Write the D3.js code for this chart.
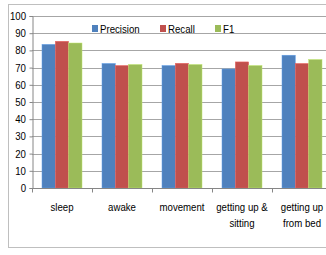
<!DOCTYPE html>
<html>
<head>
<meta charset="utf-8">
<script src="https://cdn.jsdelivr.net/npm/d3@7"></script>
<style>
  body { margin: 0; background: #fff; }
  svg { display: block; font-family: "Liberation Sans", Arial, sans-serif; }
</style>
</head>
<body>
<div id="chart"></div>
<script>
// data
const categories = [["sleep"], ["awake"], ["movement"], ["getting up &", "sitting"], ["getting up", "from bed"]];
const seriesNames = ["Precision", "Recall", "F1"];
const precision = [83.5, 72.4, 71.2, 69.2, 77.2];
const recall = [85.3, 71.2, 72.5, 73.3, 72.4];
const f1 = [84.3, 71.8, 71.8, 71.2, 74.7];
const yTicks = [0, 10, 20, 30, 40, 50, 60, 70, 80, 90, 100];
const colors = ["#4F81BD", "#C0504D", "#9BBB59"];

const width = 326, height = 255;
const margin = {left: 32, top: 16, bottom: 67};
const seriesValues = [precision, recall, f1];
const squeeze = 0.84; // narrow, Calibri-like text

const svg = d3.select("#chart").append("svg")
    .attr("width", width)
    .attr("height", height);

// narrow text: a group at (x, y) squeezed horizontally
function label(parent, x, y, txt, anchor) {
  return parent.append("g")
      .attr("transform", "translate(" + x + "," + y + ") scale(" + squeeze + ",1)")
    .append("text")
      .attr("text-anchor", anchor)
      .attr("font-size", 11.5)
      .attr("fill", "#000")
      .text(txt);
}

// outer frame
svg.append("rect")
    .attr("x", 8.5).attr("y", 4.5)
    .attr("width", 340).attr("height", 243)
    .attr("fill", "none")
    .attr("stroke", "#bfbfbf");

const keys = categories.map((c, i) => i);

const x = d3.scaleBand()
    .domain(keys)
    .range([margin.left, margin.left + 300]);

const xs = d3.scaleBand()
    .domain(seriesNames)
    .range([0, x.bandwidth()])
    .paddingOuter(0.75);

const y = d3.scaleLinear()
    .domain([0, 100])
    .range([height - margin.bottom, margin.top]);

// grid
svg.append("g")
  .selectAll("line")
  .data(yTicks.slice(1))
  .join("line")
    .attr("x1", margin.left).attr("x2", width)
    .attr("y1", d => Math.round(y(d)) + 0.5)
    .attr("y2", d => Math.round(y(d)) + 0.5)
    .attr("stroke", "#a6a6a6");

// bars
const groups = svg.append("g")
  .selectAll("g")
  .data(keys)
  .join("g")
    .attr("transform", d => "translate(" + x(d) + ",0)");

groups.selectAll("rect")
  .data(i => seriesNames.map((s, j) => ({s: s, j: j, v: seriesValues[j][i]})))
  .join("rect")
    .attr("x", d => xs(d.s))
    .attr("width", xs.bandwidth())
    .attr("y", d => y(d.v))
    .attr("height", d => y(0) - y(d.v))
    .attr("fill", d => colors[d.j])
    .attr("stroke", d => d3.color(colors[d.j]).brighter(0.6))
    .attr("stroke-width", 0.5);

// y axis
const yAxis = svg.append("g")
    .attr("transform", "translate(" + (margin.left + 0.5) + ",0)")
    .call(d3.axisLeft(y).tickValues(yTicks).tickSize(3).tickFormat(""));
yAxis.select(".domain").attr("stroke", "#868686");
yAxis.selectAll(".tick line").attr("stroke", "#868686");
yTicks.forEach(t => label(svg, 26, y(t) + 4, t, "end"));

// x axis
const xAxis = svg.append("g")
    .attr("transform", "translate(0," + (Math.round(y(0)) + 0.5) + ")");
xAxis.append("line")
    .attr("x1", margin.left).attr("x2", width)
    .attr("stroke", "#868686");
xAxis.selectAll(".tk")
  .data([-1].concat(keys))
  .join("line")
    .attr("class", "tk")
    .attr("x1", d => d < 0 ? margin.left + 0.5 : Math.round(x(d) + x.bandwidth()) + 0.5)
    .attr("x2", d => d < 0 ? margin.left + 0.5 : Math.round(x(d) + x.bandwidth()) + 0.5)
    .attr("y1", 0).attr("y2", 4)
    .attr("stroke", "#868686");
keys.forEach(k => {
  categories[k].forEach((line, i) => {
    label(svg, x(k) + x.bandwidth() / 2, y(0) + 23 + i * 16, line, "middle");
  });
});

// legend
const legendX = [92, 160, 215];
seriesNames.forEach((s, i) => {
  svg.append("rect")
      .attr("x", legendX[i]).attr("y", 25)
      .attr("width", 6).attr("height", 7)
      .attr("fill", colors[i]);
  label(svg, legendX[i] + 8, 33, s, "start");
});
</script>
</body>
</html>
